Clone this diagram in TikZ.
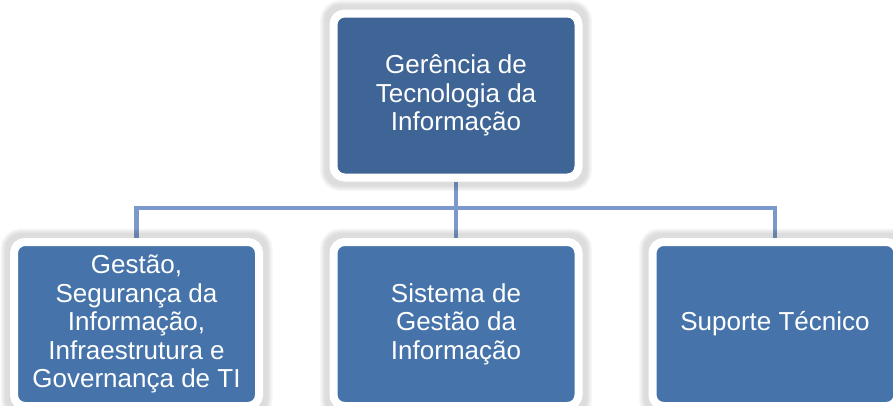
\documentclass[tikz,border=0pt]{standalone}
\usepackage{fontspec}
\setmainfont{Liberation Sans}
\usetikzlibrary{backgrounds}
\definecolor{topblue}{RGB}{62,101,150}
\definecolor{boxblue}{RGB}{70,116,170}
\definecolor{linkblue}{RGB}{122,152,201}
\begin{document}
\begin{tikzpicture}[x=1pt,y=-1pt,
  orgbox/.style={draw=white, line width=8pt, rounded corners=11pt,
    minimum width=245pt, minimum height=164pt, inner sep=0pt,
    align=center, text=white, font=\fontsize{26}{28.5}\selectfont},
  halo/.style={draw=black, rounded corners=11pt, draw opacity=0.035},
  link/.style={draw=linkblue, line width=4.8pt}]
\useasboundingbox (0,0) rectangle (893,405);
\node[orgbox, fill=topblue] (top) at (456,95.5) {Gerência de\\Tecnologia da\\Informação};
\node[orgbox, fill=boxblue] (left) at (136.5,324) {Gestão,\\Segurança da\\Informação,\\Infraestrutura e\\Governança de TI};
\node[orgbox, fill=boxblue] (mid) at (456,324) {Sistema de\\Gestão da\\Informação};
\node[orgbox, fill=boxblue] (right) at (775,324) {Suporte Técnico};
\coordinate (bus) at (456,208);
\begin{scope}[on background layer]
\draw[link] (top.south) -- (bus);
\draw[link] (left.north) |- (bus) -| (right.north);
\draw[link] (bus) -- (mid.north);
\foreach \n in {top,left,mid,right}{
  \foreach \w in {19,16,13,10}{
    \draw[halo, line width=\w pt, shift={(1pt,1.5pt)}] (\n.north west) rectangle (\n.south east);
  }
}
\end{scope}
\end{tikzpicture}
\end{document}
